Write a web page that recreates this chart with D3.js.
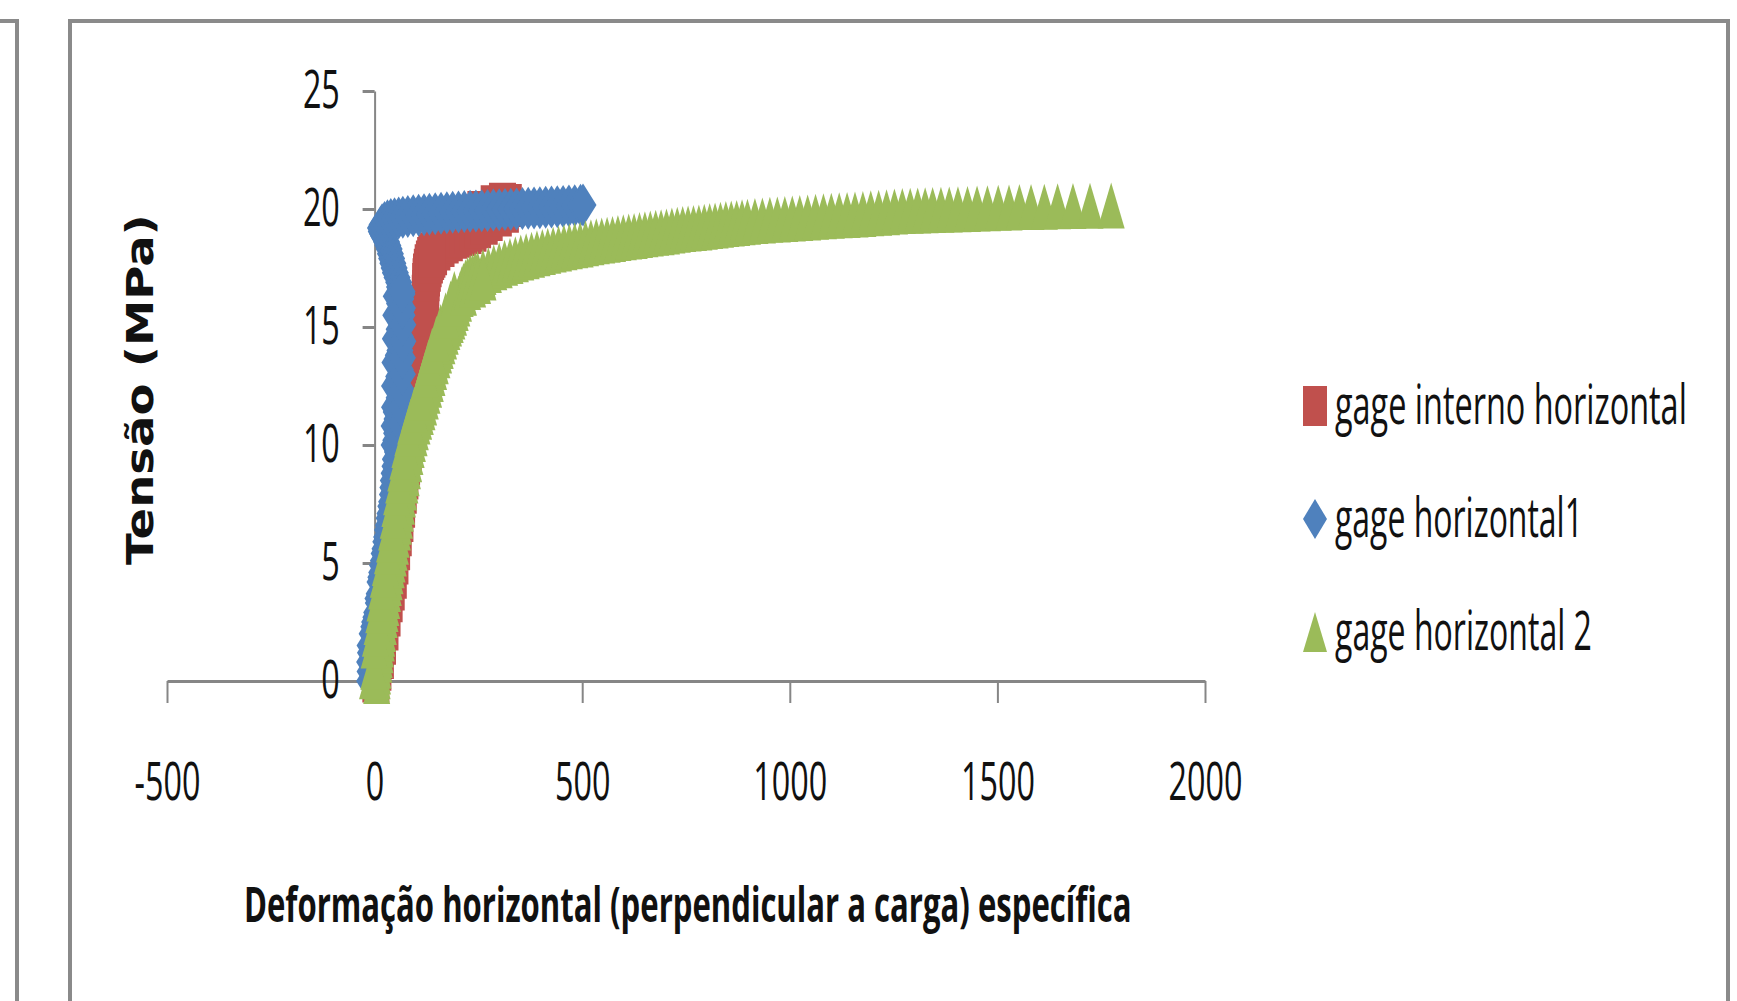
<!DOCTYPE html>
<html>
<head>
<meta charset="utf-8">
<script src="https://cdn.jsdelivr.net/npm/d3@7"></script>
<style>
  html, body { margin: 0; padding: 0; background: #fff; overflow: hidden; }
</style>
</head>
<body>
<script>
// values
var seriesNames = ['gage interno horizontal', 'gage horizontal1', 'gage horizontal 2'];
var xTicks = [-500, 0, 500, 1000, 1500, 2000];
var yTicks = [0, 5, 10, 15, 20, 25];

// [deformação, tensão]
var gageInterno = [
  [3,0],[8,0.5],[14,1.0],[19,1.6],[25,2.2],[30,2.8],[35,3.4],[40,3.9],[45,4.4],[49,5.0],
  [53,5.6],[57,6.2],[61,6.8],[65,7.4],[69,8.0],[73,8.6],[77,9.2],[81,9.8],[85,10.4],[89,11.0],
  [93,11.5],[98,12.0],[103,12.5],[108,13.0],[112,13.5],[115,14.0],[118,14.6],[120,15.2],[121,15.8],[122,16.3],
  [123,16.8],[125,17.2],[129,17.6],[135,17.9],[142,18.1],[150,18.3],[160,18.45],[170,18.6],[180,18.7],[190,18.8],
  [200,18.85],[212,18.92],[225,19.0],[237,19.1],[248,19.25],[256,19.85],[264,19.4],[276,19.55],[288,20.1],[298,19.75],
  [308,20.2],[315,19.9],[322,20.15],
  [110,13.3],[116,14.3],[119,14.9],[121,15.5],[122,16.0],[123,16.5],[124,17.0],[127,17.4],[132,17.75],[138,18.0]
];

var gageH1 = [
  [-12,0],[-11,0.4],[-12,0.8],[-10,1.2],[-11,1.5],[-6,2.0],[-2,2.3],[0,2.5],[3,2.7],[5,2.9],
  [9,3.3],[8,3.5],[11,3.7],[13,4.2],[15,4.4],[17,4.6],[19,4.9],[21,5.1],[23,5.4],[25,5.6],
  [27,5.9],[29,6.1],[31,6.4],[33,6.6],[35,6.9],[37,7.1],[39,7.4],[41,7.6],[43,7.9],[44,8.2],
  [45,8.5],[47,8.8],[49,9.1],[50,9.4],[55,9.7],[52,9.9],[51,10.2],[53,10.5],[58,10.8],[54,11.1],
  [52,11.4],[55,11.7],[59,12.0],[57,12.3],[54,12.6],[58,12.9],[62,13.2],[60,13.5],[57,13.8],[61,14.0],
  [65,14.3],[62,14.6],[59,14.9],[63,15.2],[66,15.5],[64,15.7],[60,16.0],[63,16.2],[66,16.4],[60,16.7],
  [58,16.9],[54,17.1],[50,17.3],[47,17.5],[44,17.7],[41,17.9],[38,18.1],[35,18.3],[32,18.45],[29,18.6],
  [25,18.75],[22,18.85],[19,18.95],[16,19.05],[14,19.2],[18,19.33],[24,19.43],[31,19.5],[39,19.55],[48,19.59],
  [58,19.62],[68,19.65],[80,19.68],[93,19.71],[106,19.74],[119,19.76],[132,19.78],[146,19.8],[160,19.82],[174,19.84],
  [188,19.86],[202,19.87],[216,19.89],[230,19.9],[244,19.92],[258,19.93],[272,19.94],[286,19.96],[300,19.97],[314,19.98],
  [328,19.99],[342,20.0],[356,20.02],[370,20.03],[384,20.04],[398,20.05],[412,20.07],[426,20.08],[440,20.1],[454,20.11],
  [468,20.13],[482,20.14],[496,20.16],[502,20.17],
  // scatter on both sides of the vertical part
  [47,10.0],[47,10.8],[48,11.6],[48,12.5],[49,13.5],[50,14.5],[51,15.5],[52,16.3],
  [62,10.2],[64,10.9],[65,11.6],[66,12.3],[67,13.0],[67,13.7],[68,14.4],[68,15.1],[67,15.8],[66,16.5]
];

var gageH2 = [
  [5,0],[6,0.2],[7,0.4],[8,0.65],[10,0.9],[11,1.1],[13,1.3],[14,1.55],[16,1.8],[17,2.0],
  [19,2.2],[21,2.5],[23,2.8],[25,3.05],[27,3.3],[29,3.6],[31,3.9],[33,4.15],[35,4.4],[37,4.65],
  [40,4.9],[42,5.15],[45,5.4],[47,5.65],[50,5.9],[52,6.2],[55,6.5],[57,6.75],[60,7.0],[62,7.3],
  [65,7.6],[67,7.9],[70,8.2],[73,8.5],[76,8.8],[79,9.1],[82,9.4],[85,9.7],[88,10.0],[91,10.25],
  [95,10.5],[98,10.75],[102,11.0],[106,11.2],[110,11.4],[114,11.6],[118,11.8],[122,12.05],[126,12.3],[130,12.55],
  [134,12.8],[138,13.05],[142,13.3],[146,13.55],[150,13.8],[154,14.0],[158,14.2],[162,14.4],[166,14.6],[170,14.8],
  [174,15.0],[178,15.15],[182,15.3],[186,15.45],[190,15.6],[194,15.8],[198,16.0],[202,16.2],[206,16.4],[210,16.6],
  [214,16.75],[219,16.9],[224,17.0],[230,17.1],[236,17.15],[242,17.2],[248,17.25],[261,17.33],
  [274,17.42],[287,17.53],[300,17.62],[313,17.72],[326,17.8],[339,17.87],[352,17.94],[365,18.0],[378,18.06],[391,18.12],
  [404,18.18],[417,18.23],[430,18.28],[443,18.33],[456,18.38],[469,18.42],[482,18.46],[495,18.5],[508,18.55],[521,18.59],
  [534,18.63],[547,18.67],[560,18.7],[573,18.73],[586,18.77],[599,18.8],[612,18.83],[625,18.86],[638,18.9],[651,18.93],
  [664,18.96],[677,18.99],[690,19.02],[703,19.05],[716,19.09],[729,19.12],[742,19.15],[755,19.17],[768,19.2],[781,19.22],
  [794,19.25],[807,19.28],[820,19.3],[833,19.33],[846,19.36],[859,19.39],[872,19.41],[885,19.44],[898,19.46],[916,19.49],
  [934,19.51],[952,19.54],[970,19.56],[988,19.58],[1006,19.6],[1024,19.62],[1043,19.64],[1062,19.67],[1081,19.69],[1100,19.71],
  [1119,19.73],[1138,19.75],[1157,19.77],[1176,19.79],[1195,19.82],[1214,19.84],[1233,19.86],[1252,19.89],[1271,19.91],[1290,19.93],
  [1308,19.94],[1326,19.95],[1344,19.96],[1364,19.97],[1384,19.98],[1405,19.99],[1428,20.0],[1451,20.02],[1476,20.03],[1502,20.05],
  [1528,20.06],[1553,20.08],[1581,20.09],[1613,20.1],[1645,20.12],[1682,20.13],[1723,20.14],[1774,20.15],
  // scatter on the left side of the rising part and at the knee
  [-5,0.2],[-2,0.6],[-1,1.5],[2,2.0],[6,2.5],[10,3.0],[13,3.5],[17,4.0],[21,4.5],[26,5.0],
  [31,5.5],[36,6.0],[41,6.5],[45,7.0],[49,7.5],[53,8.0],[58,8.5],[63,9.0],[68,9.5],[73,10.0],
  [80,10.5],[87,11.0],[96,11.5],[106,12.0],[114,12.5],[122,13.0],[130,13.5],[139,14.0],[149,14.5],[159,15.0],
  [171,15.5],[183,16.0],[192,16.4],[214,16.45],[224,16.7],[236,16.8],[248,16.95],[261,17.1]
];

var w = 1737, h = 1001;
var frameColor = '#8a8a8a';
var axisColor = '#868686';
var calibri = "'Open Sans', sans-serif";

var svg = d3.select('body')
  .append('svg')
  .attr('width', w)
  .attr('height', h);

// chart frames (neighbouring chart on the left is cut off)
svg.append('path')
  .attr('d', 'M0,21 H17 V1001')
  .attr('fill', 'none').attr('stroke', frameColor).attr('stroke-width', 4);
svg.append('path')
  .attr('d', 'M70,1001 V21 H1728 V1001')
  .attr('fill', 'none').attr('stroke', frameColor).attr('stroke-width', 4);

// SCALES
var x = d3.scaleLinear().domain([-500, 2000]).range([167, 1205]);
var y = d3.scaleLinear().domain([0, 25]).range([681, 91]);

// marker shapes (the picture is stretched vertically)
function marker(shape, mw, mh) {
  var a = mw / 2, b = mh / 2;
  if (shape === 'square') return 'M' + (-a) + ',' + (-b) + 'H' + a + 'V' + b + 'H' + (-a) + 'Z';
  if (shape === 'diamond') return 'M0,' + (-b) + 'L' + a + ',0L0,' + b + 'L' + (-a) + ',0Z';
  return 'M0,' + (-b) + 'L' + a + ',' + b + 'L' + (-a) + ',' + b + 'Z';
}

// squeezed text: draws at size and fits it to a width
function fitText(parent, str, tx, ty, size, width, opts) {
  opts = opts || {};
  var g = parent.append('g').attr('transform', `translate(${tx},${ty})` + (opts.rotate ? `rotate(${opts.rotate})` : ''));
  var t = g.append('text')
    .attr('font-family', opts.family || calibri)
    .attr('font-weight', opts.weight || 'normal')
    .attr('font-size', size)
    .attr('fill', '#111')
    .text(str);
  var len = t.node().getComputedTextLength();
  t.attr('transform', `scale(${width / len},1)`);
  return t;
}

var series = [
  { name: seriesNames[0], data: gageInterno, color: '#C0504D', shape: 'square', mh: 43 },
  { name: seriesNames[1], data: gageH1, color: '#4F81BD', shape: 'diamond', mh: 43 },
  { name: seriesNames[2], data: gageH2, color: '#9BBB59', shape: 'triangle', mh: 46 }
];

//AXISES
var xAxis = d3.axisBottom(x)
  .tickValues(xTicks)
  .tickSize(22)
  .tickSizeOuter(0)
  .tickFormat(d => String(d));

var gx = svg.append('g')
  .attr('transform', `translate(0,${y(0)})`)
  .call(xAxis);
gx.select('.domain').attr('stroke', axisColor).attr('stroke-width', 3);
gx.selectAll('.tick line').attr('stroke', axisColor).attr('stroke-width', 2);
gx.selectAll('.tick text')
  .attr('y', 119)
  .attr('dy', null)
  .attr('fill', '#111')
  .attr('font-family', calibri)
  .attr('font-size', 53)
  .attr('transform', 'scale(0.61,1)');

var yAxis = d3.axisLeft(y)
  .tickValues(yTicks)
  .tickSize(12)
  .tickSizeOuter(0)
  .tickFormat(d => String(d));

var gy = svg.append('g')
  .attr('transform', `translate(${x(0)},0)`)
  .call(yAxis);
gy.select('.domain').attr('stroke', axisColor).attr('stroke-width', 2);
gy.selectAll('.tick line').attr('stroke', axisColor).attr('stroke-width', 3);
gy.selectAll('.tick text')
  .attr('x', -57)
  .attr('fill', '#111')
  .attr('font-family', calibri)
  .attr('font-size', 53)
  .attr('transform', 'scale(0.61,1)');

// MARKERS
series.forEach(s => {
  svg.append('g')
    .selectAll('path')
    .data(s.data)
    .enter()
    .append('path')
      .attr('d', marker(s.shape, 27, s.mh))
      .attr('transform', d => `translate(${x(d[0])},${y(d[1])})`)
      .attr('fill', s.color);
});

// axis titles
fitText(svg, 'Deformação horizontal (perpendicular a carga) específica', 244, 922, 49, 888, { weight: 'bold' });
fitText(svg, 'Tensão (MPa)', 153, 565, 37, 351, { weight: 'bold', family: "'DejaVu Sans', sans-serif", rotate: -90 });

// LEGEND
var legendRows = [406, 519, 632];
var legendWidths = [352, 248, 257];
var legend = svg.append('g');
series.forEach((s, i) => {
  legend.append('path')
    .attr('d', marker(s.shape, 24, 40))
    .attr('transform', `translate(1315,${legendRows[i]})`)
    .attr('fill', s.color);
  fitText(legend, s.name, 1335, legendRows[i] + 18, 55, legendWidths[i]);
});
</script>
</body>
</html>
